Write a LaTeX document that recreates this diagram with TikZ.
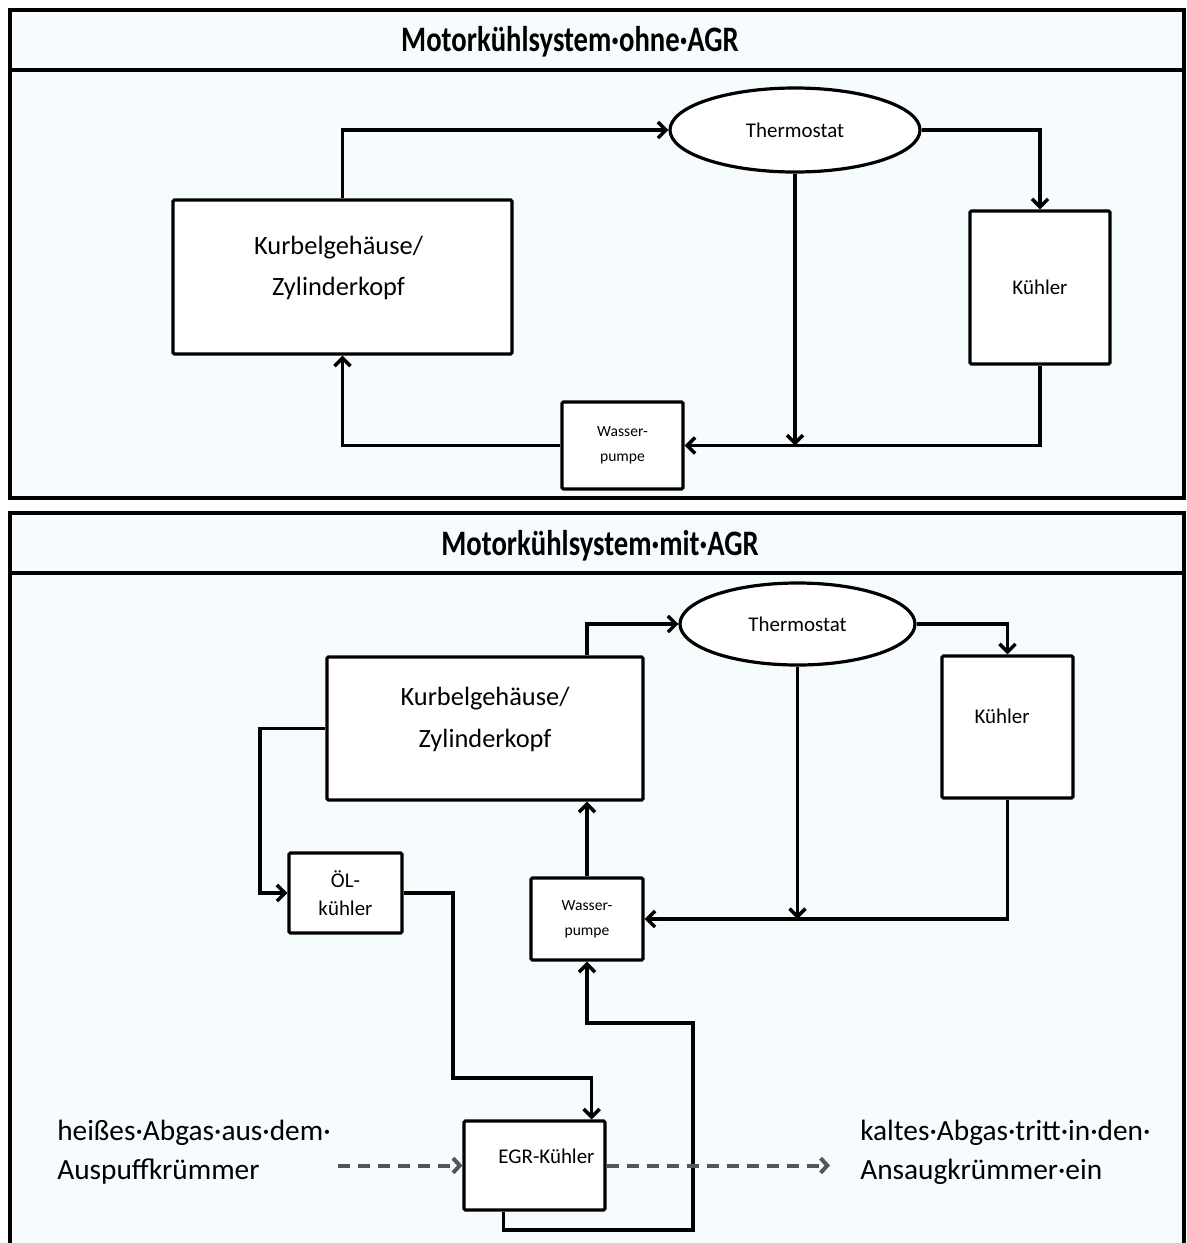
\documentclass[tikz,border=0pt]{standalone}
\usepackage{fontspec}
\setmainfont{Carlito}
\usetikzlibrary{arrows.meta,shapes.geometric,calc}
\definecolor{paneltint}{RGB}{246,252,253}
\definecolor{dashgray}{RGB}{85,85,85}
\begin{document}
\begin{tikzpicture}[x=0.75pt,y=-0.75pt,
  panel/.style={draw=black,line width=3pt,fill=paneltint},
  sep/.style={draw=black,line width=3pt},
  box/.style={draw=black,line width=2.4pt,fill=white,rounded corners=1pt,inner sep=0pt,align=center},
  oval/.style={draw=black,line width=2.4pt,fill=white,ellipse,inner sep=0pt,align=center},
  txt/.style={inner sep=0pt,align=center},
  arr/.style={draw=black,line width=2.6pt,-{Straight Barb[length=6pt,width=12pt]}},
  dasharr/.style={draw=dashgray,line width=3pt,dash pattern=on 9pt off 6pt,-{Straight Barb[length=5pt,width=11pt]}},
  titlefont/.style={font=\bfseries\fontsize{21.5}{24}\selectfont},
  bigfont/.style={font=\fontsize{19.8}{31}\selectfont},
  midfont/.style={font=\fontsize{15.7}{21}\selectfont},
  smallfont/.style={font=\fontsize{11.7}{19}\selectfont},
  sidefont/.style={font=\fontsize{22}{29.25}\selectfont,align=left}]
\useasboundingbox (0,0) rectangle (1186,1243);
\fill[white] (0,0) rectangle (1186,1243);
% ---------- top panel ----------
\draw[panel] (10,10) rectangle (1184,498);
\draw[sep] (10,70) -- (1184,70);
\node[titlefont] (t1) at (570,42) {\scalebox{1}[1.25]{Motorkühlsystem·ohne·AGR}};
\node[box,minimum width=254.25pt,minimum height=115.5pt] (kurbel1) at (342.5,277) {};
\node[txt,bigfont] (kurbel1t) at ([xshift=-3pt,yshift=6.75pt]kurbel1.center) {Kurbelgehäuse/\\Zylinderkopf};
\node[oval,midfont,minimum width=187.5pt,minimum height=63pt] (therm1) at (795,130) {Thermostat};
\node[box,midfont,minimum width=105pt,minimum height=114.75pt] (kuehler1) at (1040,287.5) {Kühler};
\node[box,smallfont,minimum width=90.75pt,minimum height=65.25pt] (wp1) at (622.5,445.5) {Wasser-\\pumpe};
\draw[arr] (kurbel1.north) |- (therm1.west);
\draw[arr] (therm1.east) -| (kuehler1.north);
\draw[arr] (therm1.south) -- (therm1.south |- wp1.east);
\draw[arr] (kuehler1.south) |- (wp1.east);
\draw[arr] (wp1.west) -| (kurbel1.south);
% ---------- bottom panel ----------
\draw[panel] (10,513) rectangle (1184,1260);
\draw[sep] (10,573) -- (1184,573);
\node[titlefont] (t2) at (600,546) {\scalebox{1}[1.25]{Motorkühlsystem·mit·AGR}};
\node[box,minimum width=237pt,minimum height=107.25pt] (kurbel2) at (485,728.5) {};
\node[txt,bigfont] (kurbel2t) at ([yshift=6.75pt]kurbel2.center) {Kurbelgehäuse/\\Zylinderkopf};
\node[oval,midfont,minimum width=176.25pt,minimum height=61.5pt] (therm2) at (797.5,624) {Thermostat};
\node[box,minimum width=98.25pt,minimum height=106.5pt] (kuehler2) at (1007.5,727) {};
\node[txt,midfont] (kuehler2t) at ([xshift=-4pt,yshift=8.25pt]kuehler2.center) {Kühler};
\node[box,midfont,minimum width=84.75pt,minimum height=60pt] (oel) at (345.5,893) {ÖL-\\kühler};
\node[box,smallfont,minimum width=84pt,minimum height=61.5pt] (wp2) at (587,919) {Wasser-\\pumpe};
\node[box,minimum width=105.75pt,minimum height=66.75pt] (egr) at (534.5,1165.5) {};
\node[txt,midfont] (egrt) at ([xshift=9pt,yshift=7pt]egr.center) {EGR-Kühler};
\node[sidefont,anchor=west,inner sep=0pt] (hot) at (57,1152.5) {heißes·Abgas·aus·dem·\\Auspuffkrümmer};
\node[sidefont,anchor=west,inner sep=0pt] (cold) at (860,1152.5) {kaltes·Abgas·tritt·in·den·\\Ansaugkrümmer·ein};
\coordinate (c1) at (260,893);
\coordinate (c2) at (453,1078);
\coordinate (c3) at (693,1230);
\coordinate (c4) at (693,1023);
\coordinate (d1) at (338,1165.5);
\coordinate (d2) at (830,1165.5);
\draw[arr] (wp2.north |- kurbel2.north) |- (therm2.west);
\draw[arr] (therm2.east) -| (kuehler2.north);
\draw[arr] (therm2.south) -- (therm2.south |- wp2.east);
\draw[arr] (kuehler2.south) |- (wp2.east);
\draw[arr] (wp2.north) -- (wp2.north |- kurbel2.south);
\draw[arr] (kurbel2.west) -| (c1) -- (oel.west);
\draw[arr] (oel.east) -| (c2) -| ([xshift=-11.25pt]egr.north east);
\draw[arr] ([xshift=30.75pt]egr.south west) |- (c3) -- (c4) -| (wp2.south);
\draw[dasharr] (d1) -- (egr.west);
\draw[dasharr] (egr.east) -- (d2);
\end{tikzpicture}
\end{document}
